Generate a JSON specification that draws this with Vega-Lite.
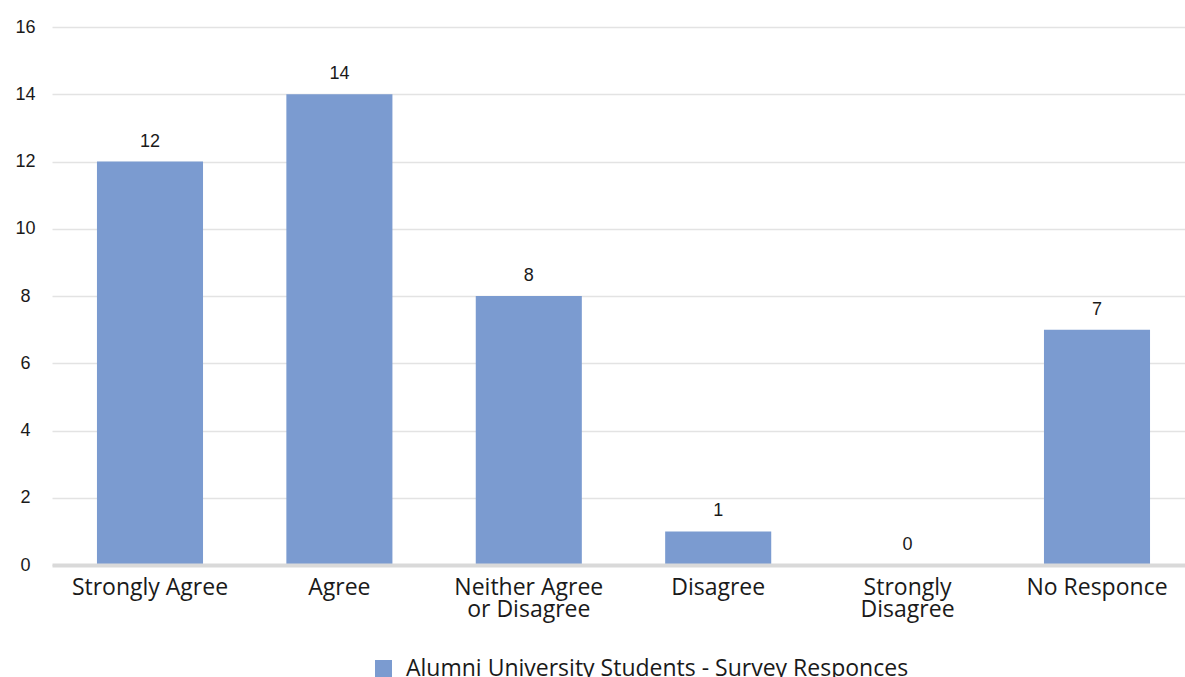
{
  "$schema": "https://vega.github.io/schema/vega-lite/v6.json",
  "width": 1133,
  "height": 538,
  "autosize": {"type": "none"},
  "padding": {"left": 52, "top": 27, "right": 0, "bottom": 112},
  "background": "white",
  "data": {
    "values": [
      {"response": "Strongly Agree", "count": 12, "series": "Alumni University Students - Survey Responces"},
      {"response": "Agree", "count": 14, "series": "Alumni University Students - Survey Responces"},
      {"response": "Neither Agree or Disagree", "count": 8, "series": "Alumni University Students - Survey Responces"},
      {"response": "Disagree", "count": 1, "series": "Alumni University Students - Survey Responces"},
      {"response": "Strongly Disagree", "count": 0, "series": "Alumni University Students - Survey Responces"},
      {"response": "No Responce", "count": 7, "series": "Alumni University Students - Survey Responces"}
    ]
  },
  "config": {
    "view": {"stroke": null},
    "font": "Liberation Sans"
  },
  "encoding": {
    "x": {
      "field": "response",
      "type": "nominal",
      "sort": null,
      "scale": {"paddingInner": 0.44, "paddingOuter": 0.211, "align": 0.5625},
      "axis": {
        "title": null,
        "labelAngle": 0,
        "labelFont": "Open Sans",
        "labelFontSize": 23,
        "labelColor": "#1a1a1a",
        "labelPadding": 11,
        "labelLineHeight": 22,
        "labelLimit": 0,
        "labelOverlap": false,
        "labelExpr": "datum.value == 'Neither Agree or Disagree' ? ['Neither Agree', 'or Disagree'] : datum.value == 'Strongly Disagree' ? ['Strongly', 'Disagree'] : datum.value",
        "ticks": false,
        "domainColor": "#d9d9d9",
        "domainWidth": 4,
        "zindex": 1
      }
    },
    "y": {
      "field": "count",
      "type": "quantitative",
      "scale": {"domain": [0, 16], "nice": false},
      "axis": {
        "title": null,
        "values": [0, 2, 4, 6, 8, 10, 12, 14, 16],
        "ticks": false,
        "domain": false,
        "labelAlign": "center",
        "labelPadding": 27,
        "labelFontSize": 18,
        "labelColor": "#1a1a1a",
        "gridColor": "#e3e3e3",
        "gridWidth": 1.5
      }
    }
  },
  "layer": [
    {
      "mark": {"type": "bar", "color": "#7b9bd0"},
      "encoding": {
        "color": {
          "field": "series",
          "type": "nominal",
          "scale": {"range": ["#7b9bd0"]},
          "legend": {
            "title": null,
            "orient": "none",
            "legendX": 320,
            "legendY": 630,
            "symbolType": "square",
            "symbolSize": 289,
            "symbolStrokeWidth": 0,
            "labelFont": "Open Sans",
            "labelFontSize": 23,
            "labelLimit": 0,
            "labelColor": "#1a1a1a",
            "labelOffset": 11
          }
        }
      }
    },
    {
      "mark": {"type": "text", "baseline": "middle", "dy": -20, "fontSize": 18, "color": "#1a1a1a"},
      "encoding": {
        "text": {"field": "count", "type": "quantitative"}
      }
    }
  ]
}
